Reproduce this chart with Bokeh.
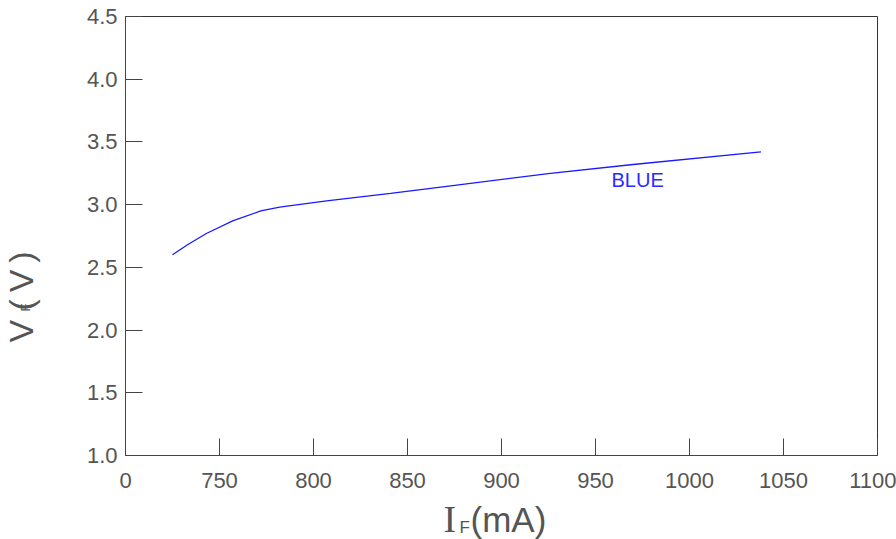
from bokeh.plotting import figure
from bokeh.models import Range1d, FixedTicker, PrintfTickFormatter, Label
from bokeh.embed import file_html
from bokeh.resources import INLINE
import math

# ---- data ----
if_ma = [725, 733, 743, 757, 772, 782, 807, 841, 873, 926, 970, 1038]
vf_v = [2.60, 2.68, 2.77, 2.87, 2.95, 2.98, 3.03, 3.09, 3.15, 3.25, 3.32, 3.42]
series_name = "BLUE"
x_ticks = [700, 750, 800, 850, 900, 950, 1000, 1050, 1100]
x_tick_labels = ["0", "750", "800", "850", "900", "950", "1000", "1050", "1100"]
y_ticks = [1.0, 1.5, 2.0, 2.5, 3.0, 3.5, 4.0, 4.5]

X0, X1 = 700, 1100
Y0, Y1 = 1.0, 4.5

W, H = 896, 539
BL, BT = 125, 16
FW, FH = 752, 439
BR = W - BL - FW
BB = H - BT - FH

p = figure(width=W, height=H, output_backend="svg", toolbar_location=None,
           x_range=Range1d(X0, X1), y_range=Range1d(Y0, Y1),
           min_border_left=BL, min_border_right=BR, min_border_top=BT, min_border_bottom=BB)
p.background_fill_color = "white"
p.border_fill_color = "white"
p.outline_line_color = "#333333"
p.outline_line_width = 1
p.grid.visible = False

TICK_FONT = "Liberation Sans"
AX_COL = "#444444"

for ax in (p.xaxis[0], p.yaxis[0]):
    ax.axis_line_color = AX_COL
    ax.major_tick_line_color = AX_COL
    ax.major_tick_in = 17
    ax.major_tick_out = 0
    ax.minor_tick_line_color = None
    ax.major_label_text_font = TICK_FONT
    ax.major_label_text_font_size = "22px"
    ax.major_label_text_color = "#555555"
    ax.major_label_text_font_style = "normal"

p.xaxis.ticker = FixedTicker(ticks=x_ticks)
p.xaxis.major_label_overrides = {t: l for t, l in zip(x_ticks, x_tick_labels)}
p.xaxis.major_label_standoff = 17
p.yaxis.ticker = FixedTicker(ticks=y_ticks)
p.yaxis.formatter = PrintfTickFormatter(format="%.1f")
p.yaxis.major_label_standoff = 8

p.line(if_ma, vf_v, line_color="#1a1aff", line_width=1.3)

# pixel -> data helpers for text placement
PL, PT = BL, BT
def xd(px):
    return X0 + (px - PL) * (X1 - X0) / FW
def yd(py):
    return Y0 + (PT + FH - py) * (Y1 - Y0) / FH

BASE_SHIFT = 0.42  # em offset between the anchor and the rendered baseline

def fsz(s):
    return float(s.replace("px", ""))

p.add_layout(Label(x=xd(611), y=yd(188 - BASE_SHIFT * 20), text=series_name,
                   text_font="Liberation Sans", text_font_size="20px", text_color="#2a2aff",
                   text_align="left", text_baseline="alphabetic"))

LAB_COL = "#555555"

def xlab(txt, px, size, panel, font="Liberation Sans"):
    p.add_layout(Label(x=xd(px), y=yd(534 - BASE_SHIFT * fsz(size)), text=txt, text_font=font,
                       text_font_size=size, text_color=LAB_COL, text_align="left",
                       text_baseline="alphabetic"), panel)

def ylab(txt, bx, py, size, panel, font="Liberation Sans"):
    p.add_layout(Label(x=xd(bx - BASE_SHIFT * fsz(size)), y=yd(py), text=txt, text_font=font,
                       text_font_size=size, text_color=LAB_COL, text_align="left",
                       text_baseline="alphabetic", angle=math.pi / 2), panel)

# x-axis label: I_F(mA)
xlab("(mA)", 470, "35px", "below")
xlab("I", 443, "38px", "right", font="Liberation Serif")
xlab("F", 459, "17px", "left")

# y-axis label: V_F(V), rotated
ylab("V  (\u2009V\u2009)", 35, 342, "34px", "left")
ylab("F", 30, 311, "13px", "left")

open("out.html", "w").write(file_html(p, INLINE))
